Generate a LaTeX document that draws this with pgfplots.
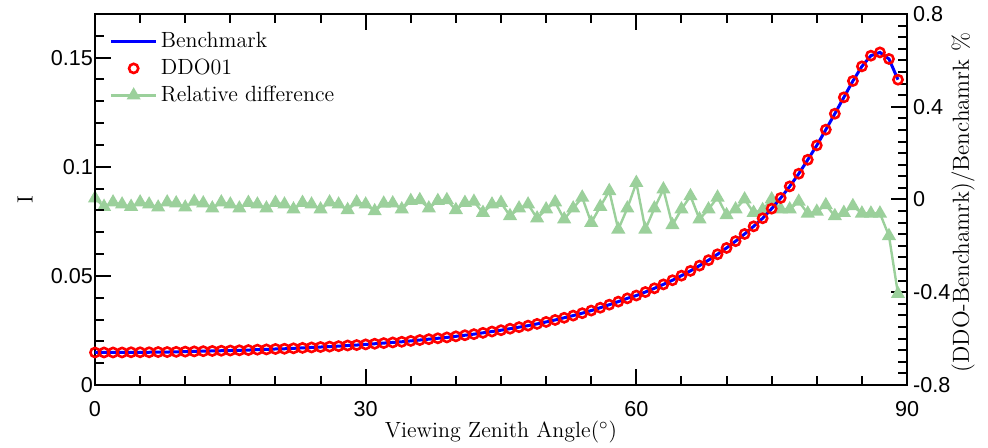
\documentclass[border=0pt]{standalone}
\usepackage{fontspec}
\usepackage{pgfplots}
\pgfplotsset{compat=1.18}
\usepackage{pgfplotstable}
\newfontfamily\tickfont{Liberation Sans}
\definecolor{relgreen}{RGB}{155,208,155}

% angle, radiance I, relative difference (%)
\pgfplotstableread{
angle I rel
0 0.0149 0.005
1 0.0149 -0.031
2 0.0149 -0.012
3 0.0149 -0.021
4 0.0150 -0.031
5 0.0150 -0.012
6 0.0150 -0.021
7 0.0151 -0.034
8 0.0151 -0.012
9 0.0152 -0.016
10 0.0153 -0.034
11 0.0154 -0.009
12 0.0155 -0.016
13 0.0156 -0.038
14 0.0157 -0.012
15 0.0158 -0.021
16 0.0159 -0.038
17 0.0160 -0.014
18 0.0162 -0.021
19 0.0163 -0.038
20 0.0165 -0.014
21 0.0166 -0.021
22 0.0168 -0.042
23 0.0170 -0.014
24 0.0172 -0.021
25 0.0174 -0.042
26 0.0176 -0.012
27 0.0178 -0.021
28 0.0181 -0.045
29 0.0183 -0.012
30 0.0186 -0.021
31 0.0189 -0.050
32 0.0192 -0.017
33 0.0195 -0.016
34 0.0198 -0.042
35 0.0202 -0.006
36 0.0206 -0.002
37 0.0210 -0.038
38 0.0214 -0.006
39 0.0218 -0.002
40 0.0223 -0.045
41 0.0228 -0.014
42 0.0233 -0.009
43 0.0239 -0.057
44 0.0245 -0.021
45 0.0251 -0.014
46 0.0258 -0.071
47 0.0265 -0.038
48 0.0272 -0.021
49 0.0280 -0.081
50 0.0289 -0.042
51 0.0298 -0.012
52 0.0308 -0.085
53 0.0318 -0.038
54 0.0329 0.009
55 0.0341 -0.100
56 0.0354 -0.031
57 0.0368 0.037
58 0.0382 -0.129
59 0.0397 -0.038
60 0.0410 0.072
61 0.0426 -0.129
62 0.0443 -0.038
63 0.0461 0.044
64 0.0480 -0.110
65 0.0501 -0.042
66 0.0523 0.015
67 0.0547 -0.085
68 0.0572 -0.042
69 0.0599 0.009
70 0.0628 -0.067
71 0.0659 -0.042
72 0.0692 0.001
73 0.0727 -0.057
74 0.0764 -0.045
75 0.0808 0.001
76 0.0857 -0.042
77 0.0910 -0.042
78 0.0968 -0.009
79 0.1032 -0.060
80 0.1098 -0.052
81 0.1170 -0.024
82 0.1243 -0.071
83 0.1318 -0.057
84 0.1393 -0.028
85 0.1460 -0.060
86 0.1509 -0.060
87 0.1524 -0.060
88 0.1494 -0.157
89 0.1399 -0.407
}\datatable

\begin{document}
\begin{tikzpicture}
\pgfplotsset{
  common/.style={
    scale only axis, width=406pt, height=185.5pt,
    xmin=0, xmax=90,
    tick align=inside,
    major tick length=8pt, minor tick length=4.5pt,
    tick style={black, line width=1pt},
    axis line style={line width=1pt},
    ticklabel style={font=\tickfont\fontsize{10.8}{12}\selectfont},
  },
}
% right axis: relative difference
\begin{axis}[common,
    axis x line=none, axis y line*=right,
    ymin=-0.8, ymax=0.8,
    ytick={-0.8,-0.4,0,0.4,0.8},
    yticklabels={-0.8,-0.4,0,0.4,0.8},
    minor ytick={-0.75,-0.7,...,0.75},
    yticklabel style={xshift=-0.5pt},
    ylabel={(DDO-Benchamrk)/Benchamrk \%},
    every axis y label/.style={at={(axis description cs:1,0.5)}, xshift=28pt, yshift=-1.5pt, rotate=90, anchor=center,
      font=\fontsize{11.6}{13}\selectfont},
]
\addplot[color=relgreen, line width=1.2pt, mark=triangle*, mark size=2.9pt,
    mark options={solid, fill=relgreen}] table[x=angle, y=rel] {\datatable};
\end{axis}
% left axis: radiance
\begin{axis}[common,
    ymin=0, ymax=0.17,
    xtick pos=both, xticklabel pos=lower,
    ytick pos=left, yticklabel pos=left,
    xtick={0,30,60,90}, xticklabels={0,30,60,90},
    minor xtick={5,10,...,85},
    ytick={0,0.05,0.1,0.15}, yticklabels={0,0.05,0.1,0.15},
    minor ytick={0.01,0.02,...,0.165},
    xticklabel style={yshift=-4.5pt},
    yticklabel style={xshift=2.5pt},
    xlabel={Viewing Zenith Angle($^\circ$)},
    every axis x label/.style={at={(axis description cs:0.5,0)}, yshift=-23.5pt, anchor=center,
      font=\fontsize{11}{13}\selectfont},
    ylabel={I},
    every axis y label/.style={at={(axis description cs:0,0.5)}, xshift=-35pt, rotate=90, anchor=center,
      font=\fontsize{11}{13}\selectfont},
    legend image code/.code={\draw[mark repeat=2,mark phase=2,#1] plot coordinates {(0cm,0cm) (0.4cm,0cm) (0.8cm,0cm)};},
    legend style={at={(axis description cs:0,1)}, anchor=north west, xshift=4pt, yshift=-5.5pt,
      draw=none, fill=none, font=\fontsize{11}{13}\selectfont, row sep=1.25pt,
      nodes={inner sep=1.5pt}},
    legend cell align=left,
]
\addplot[blue, line width=1.5pt] table[x=angle, y=I] {\datatable};
\addlegendentry{Benchmark}
\addplot[only marks, red, mark=o, mark size=2.3pt, mark options={line width=1.3pt}] table[x=angle, y=I] {\datatable};
\addlegendentry{DDO01}
\addlegendimage{color=relgreen, line width=1.2pt, mark=triangle*, mark size=2.9pt, mark options={solid, fill=relgreen}}
\addlegendentry{Relative difference}
\coordinate (bl) at (rel axis cs:0,0);
\coordinate (tr) at (rel axis cs:1,1);
\end{axis}
\pgfresetboundingbox
\path ([shift={(-47.5pt,-31.5pt)}]bl) rectangle ([shift={(40.5pt,7pt)}]tr);
\end{tikzpicture}
\end{document}
